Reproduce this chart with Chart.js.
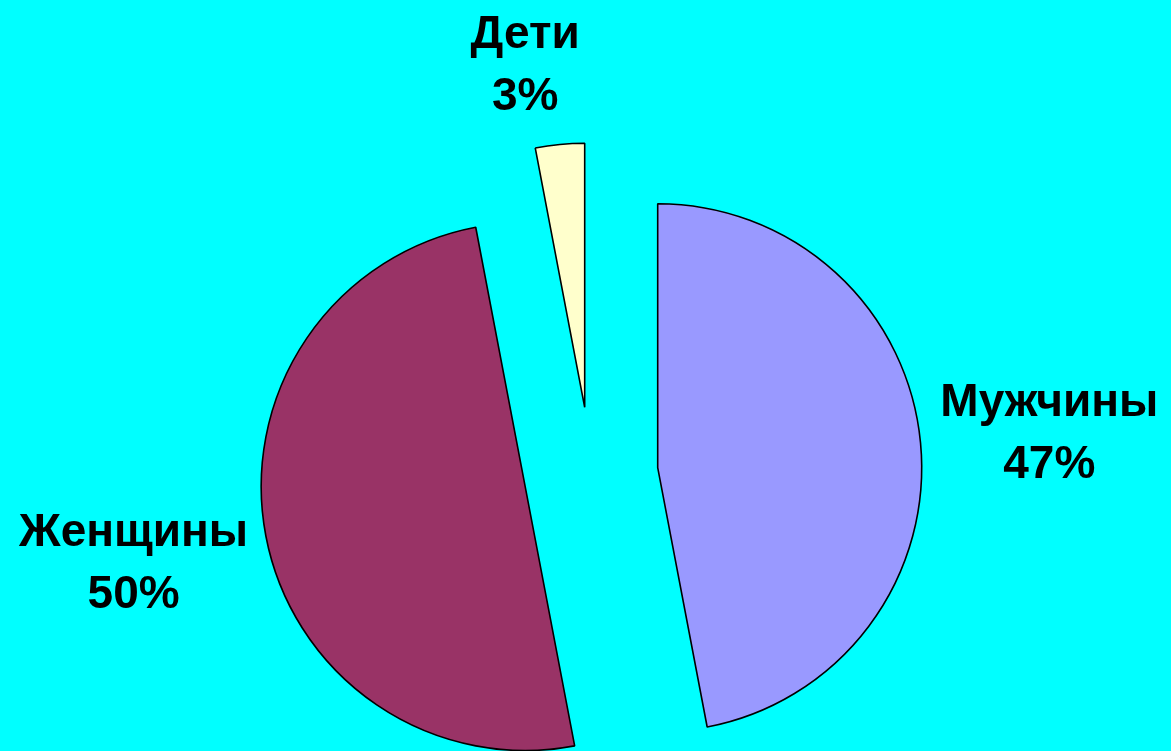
<!DOCTYPE html>
<html>
<head>
<meta charset="utf-8">
<script src="https://cdn.jsdelivr.net/npm/chart.js@4/dist/chart.umd.min.js"></script>
<style>
  html, body { margin: 0; padding: 0; background: #00ffff; }
  #wrap { width: 1171px; height: 751px; position: relative; }
</style>
</head>
<body>
<div id="wrap"><canvas id="pie"></canvas></div>
<script>
// ── DATA ──────────────────────────────────────────────────────────────────────
const labels = ['Мужчины', 'Женщины', 'Дети'];
const values = [47, 50, 3];
const colors = ['#9999ff', '#993366', '#ffffcc'];

// ── LOOK ──────────────────────────────────────────────────────────────────────
const EXPLODE = 67;          // how far each slice is pulled out, px
const RADIUS = 264;
const LABEL_DIST = [1.49, 1.51, 1.31];   // label distance from slice tip, in radii
const LABEL_NUDGE = [[0, 0], [0, 0], [-27, 0]];
const total = values.reduce((a, b) => a + b, 0);

// Chart.js' own "offset" also grows the radius, so pull slices out by hand
const explode = {
  id: 'explode',
  beforeDatasetDraw(chart, args) {
    const ctx = chart.ctx;
    args.meta.data.forEach(arc => {
      const mid = (arc.startAngle + arc.endAngle) / 2;
      ctx.save();
      ctx.translate(Math.cos(mid) * EXPLODE, Math.sin(mid) * EXPLODE);
      arc.draw(ctx);
      ctx.restore();
    });
    return false;
  }
};

const sliceLabels = {
  id: 'sliceLabels',
  afterDatasetsDraw(chart) {
    const ctx = chart.ctx;
    const meta = chart.getDatasetMeta(0);
    ctx.save();
    ctx.fillStyle = '#000';
    ctx.font = 'bold 46px "Liberation Sans", Arial, sans-serif';
    ctx.textAlign = 'center';
    ctx.textBaseline = 'alphabetic';
    meta.data.forEach((arc, i) => {
      const mid = (arc.startAngle + arc.endAngle) / 2;
      const d = EXPLODE + arc.outerRadius * LABEL_DIST[i];
      const cx = arc.x + Math.cos(mid) * d + LABEL_NUDGE[i][0];
      const cy = arc.y + Math.sin(mid) * d + LABEL_NUDGE[i][1];
      const pct = Math.round(values[i] / total * 100) + '%';
      ctx.fillText(labels[i], cx, cy - 15);
      ctx.fillText(pct, cx, cy + 47);
    });
    ctx.restore();
  }
};

new Chart(document.getElementById('pie'), {
  type: 'pie',
  data: {
    labels,
    datasets: [{
      data: values,
      backgroundColor: colors,
      borderColor: '#000',
      borderWidth: 1.6,
      clip: false
    }]
  },
  options: {
    responsive: true,
    maintainAspectRatio: false,
    animation: false,
    radius: RADIUS,
    layout: { padding: { left: 11, right: 0, top: 197, bottom: 0 } },
    plugins: { legend: { display: false }, tooltip: { enabled: false } }
  },
  plugins: [explode, sliceLabels]
});
</script>
</body>
</html>
